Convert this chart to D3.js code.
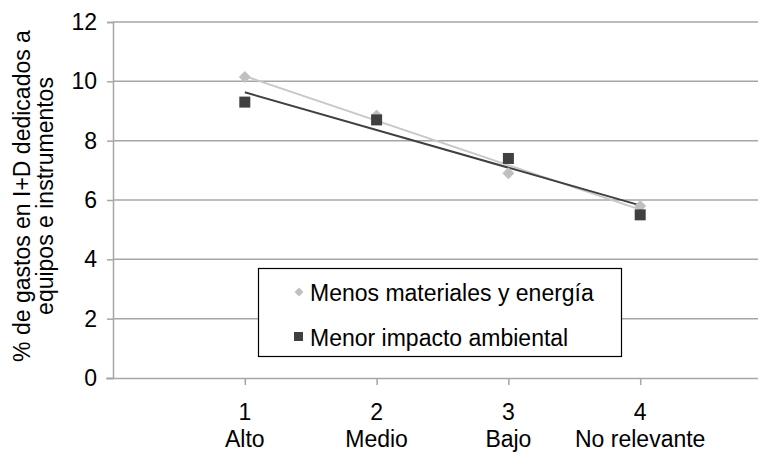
<!DOCTYPE html>
<html><head><meta charset="utf-8">
<script src="https://cdn.jsdelivr.net/npm/d3@7"></script>
<style>body{margin:0;background:#fff}svg{display:block;font-family:"Liberation Sans",Arial,sans-serif}</style>
</head><body><svg id="c" width="758" height="452"></svg>
<script>
const xValues = [1, 2, 3, 4];
const xLabels = ["Alto", "Medio", "Bajo", "No relevante"];
const seriesNames = ["Menos materiales y energía", "Menor impacto ambiental"];
const menosMateriales = [10.15, 8.85, 6.9, 5.8];
const menorImpacto = [9.3, 8.7, 7.4, 5.5];
const yTicks = [0, 2, 4, 6, 8, 10, 12];

const FS = 23;
const svg = d3.select("#c");
const x = d3.scaleLinear().domain([0, 5]).range([113, 772]);
const y = d3.scaleLinear().domain([0, 12]).range([378, 22]);

// gridlines
svg.append("g").selectAll("line").data(yTicks.filter(d => d > 0)).join("line")
  .attr("x1", 113).attr("x2", 758).attr("y1", d => y(d)).attr("y2", d => y(d))
  .attr("stroke", "#a6a6a6").attr("stroke-width", 1.5);

// y axis
const ya = svg.append("g").attr("transform", "translate(113,0)")
  .call(d3.axisLeft(y).tickValues(yTicks).tickSize(6).tickPadding(10));
ya.select(".domain").attr("stroke", "#a6a6a6").attr("stroke-width", 1.5);
ya.selectAll(".tick line").attr("stroke", "#a6a6a6").attr("stroke-width", 1.5);
ya.selectAll("text").attr("font-size", FS).attr("fill", "#000").attr("font-family", "Liberation Sans, Arial, sans-serif");

// x axis
const xa = svg.append("g").attr("transform", "translate(0,378)")
  .call(d3.axisBottom(x).tickValues(xValues).tickSize(7).tickFormat(""));
xa.select(".domain").attr("stroke", "#a6a6a6").attr("stroke-width", 1.5).attr("d", "M106,0.5H758");
xa.selectAll(".tick line").attr("stroke", "#a6a6a6").attr("stroke-width", 1.5);
const xl = svg.append("g");
xValues.forEach((v, i) => {
  xl.append("text").attr("x", x(v)).attr("y", 420).attr("text-anchor", "middle")
    .attr("font-size", FS).text(String(v));
  xl.append("text").attr("x", x(v)).attr("y", 447).attr("text-anchor", "middle")
    .attr("font-size", FS).text(xLabels[i]);
});

// y title
const yt = svg.append("text").attr("transform", "translate(0,196) rotate(-90)")
  .attr("text-anchor", "middle").attr("font-size", FS);
yt.append("tspan").attr("x", 0).attr("y", 30).text("% de gastos en I+D dedicados a");
yt.append("tspan").attr("x", 0).attr("y", 53).text("equipos e instrumentos");

// trend lines (least squares fit of each series)
function fit(ys) {
  const mx = d3.mean(xValues), my = d3.mean(ys);
  const s = d3.sum(xValues, (xv, i) => (xv - mx) * (ys[i] - my)) / d3.sum(xValues, xv => (xv - mx) ** 2);
  return v => my + s * (v - mx);
}
const f1 = fit(menosMateriales), f2 = fit(menorImpacto);
svg.append("line").attr("x1", x(1)).attr("x2", x(4)).attr("y1", y(f1(1))).attr("y2", y(f1(4)))
  .attr("stroke", "#c8c8c8").attr("stroke-width", 2);
svg.append("line").attr("x1", x(1)).attr("x2", x(4)).attr("y1", y(f2(1))).attr("y2", y(f2(4)))
  .attr("stroke", "#404040").attr("stroke-width", 2);

// points
const diamond = d3.symbol().type(d3.symbolSquare).size(72);
svg.append("g").selectAll("path").data(menosMateriales).join("path")
  .attr("d", diamond).attr("transform", (d, i) => `translate(${x(xValues[i])},${y(d)}) rotate(45)`)
  .attr("fill", "#c0c0c0");
svg.append("g").selectAll("rect").data(menorImpacto).join("rect")
  .attr("x", (d, i) => x(xValues[i]) - 5.5).attr("y", d => y(d) - 5.5)
  .attr("width", 11).attr("height", 11).attr("fill", "#404040");

// legend
const lg = svg.append("g");
lg.append("rect").attr("x", 258.5).attr("y", 268.5).attr("width", 363).attr("height", 88)
  .attr("fill", "#fff").attr("stroke", "#000").attr("stroke-width", 1.2);
lg.append("path").attr("d", d3.symbol().type(d3.symbolSquare).size(40)())
  .attr("transform", "translate(299,292) rotate(45)").attr("fill", "#c0c0c0");
lg.append("rect").attr("x", 294).attr("y", 332).attr("width", 9).attr("height", 9).attr("fill", "#404040");
lg.append("text").attr("x", 310).attr("y", 301).attr("font-size", FS).text(seriesNames[0]);
lg.append("text").attr("x", 310).attr("y", 346).attr("font-size", FS).text(seriesNames[1]);
</script></body></html>
